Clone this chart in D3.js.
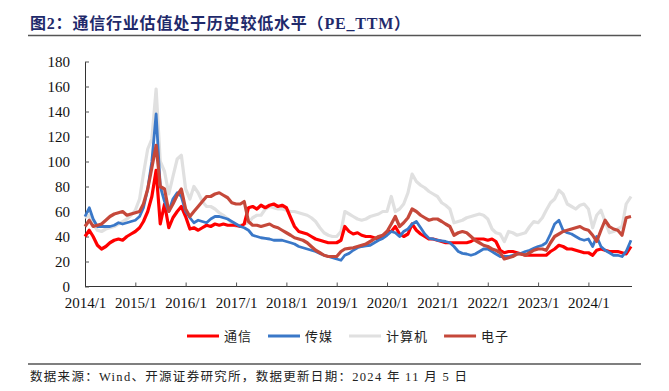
<!DOCTYPE html>
<html>
<head>
<meta charset="utf-8">
<script src="https://cdn.jsdelivr.net/npm/d3@7"></script>
<style>
  body { margin: 0; background: #fff; }
  svg { display: block; }
</style>
</head>
<body>
<svg id="chart" width="669" height="391"></svg>
<script>
// monthly PE_TTM, 2014/1 .. 2024/11
const seriesNames = ["通信", "传媒", "计算机", "电子"];
const seriesColors = ["#ff0000", "#3a78c8", "#e0e0e0", "#c5483a"];

const tongxin = [
  40, 45, 40, 33, 30, 32, 35, 37, 38, 37, 40, 42,
  44, 47, 52, 60, 72, 93, 50, 66, 47, 55, 60, 64,
  56, 46, 47, 45, 47, 49, 48, 50, 49, 50, 49, 49,
  49, 48, 50, 63, 64, 62, 65, 63, 65, 66, 64, 65,
  63, 55, 48, 44, 43, 42, 40, 38, 37, 36, 35, 35,
  35, 37, 48, 44, 42, 43, 41, 40, 40, 39, 38, 40,
  44, 44, 48, 42, 40, 42, 50, 45, 42, 40, 38, 38,
  37, 36, 35, 35, 35, 35, 35, 35, 36, 38, 38, 38,
  37, 38, 36, 29, 27, 28, 28, 27, 26, 25, 25, 25,
  25, 25, 25, 28, 30, 33, 32, 30, 30, 29, 28, 27,
  27, 25, 29, 30, 29, 28, 28, 28, 27, 26, 32
];
const chuanmei = [
  56, 63, 54, 48, 48, 48, 48, 49, 51, 50, 51, 52,
  53, 56, 63, 78, 100, 138, 80, 68, 60, 70, 75, 72,
  60, 55, 51, 53, 52, 51, 54, 56, 56, 55, 54, 52,
  50, 48, 47, 45, 41, 40, 39, 38.5, 38, 37, 37, 37,
  36, 35, 34, 32, 31, 30, 29, 28, 26.5, 25, 24, 23,
  22, 21, 25, 26.5, 29, 31, 32, 32.5, 33, 35, 37, 38.5,
  41, 44, 43, 40, 44, 46, 50, 52, 47, 42, 38.5, 38,
  37, 36.5, 36, 35, 32, 28, 26.5, 26, 25, 26, 28, 30,
  30, 28, 26, 24, 24, 24, 25, 26, 26.5, 28, 29, 30.5,
  32, 33, 35, 42, 50, 53, 45, 43, 42, 40, 38, 37,
  38, 32, 40, 32, 29, 27, 25, 25, 24, 28, 37
];
const jisuanji = [
  55, 57, 50, 45, 44, 46, 47, 48, 50, 52, 54, 57,
  61, 70, 90, 110, 118, 158, 100, 92, 74, 88, 102, 105,
  78, 70, 80, 75, 68, 64, 64, 62, 59, 57, 54, 51,
  48, 49, 50, 51, 55, 57, 57, 62, 64, 63, 62, 62,
  61, 60, 60, 59, 58, 57, 55, 52, 47, 43, 41, 40,
  40, 44, 60, 58, 56, 54, 53, 54, 56, 57, 58, 60,
  60, 72, 60, 62, 66, 75, 90, 84, 81, 79, 76, 74,
  72, 67, 65, 62, 51, 52, 53, 55, 56, 57, 58, 57,
  54, 46, 43, 42, 36, 44, 43, 41, 42, 43, 48, 52,
  51, 55, 61, 67, 70, 77, 74, 66, 64, 62, 65, 66,
  62, 47, 57, 61, 52, 43, 44, 46, 48, 66, 72
];
const dianzi = [
  48, 53, 48, 49, 50, 53, 56, 58, 59, 60, 57, 58,
  59, 60, 66, 78, 95, 113, 80, 78, 60, 66, 73, 78,
  62, 56, 60, 64, 68, 72, 72, 74, 75, 73, 71, 67,
  66, 66, 68, 52, 49, 49, 48, 49, 50, 48, 47, 45,
  43, 41, 39, 38, 37, 35, 32, 29, 27, 25, 24, 24,
  24, 28, 30, 30.5, 31, 32, 33, 34, 36, 38, 40, 41,
  44, 50, 56, 48, 51, 55, 62, 60, 57, 55, 53, 54,
  54, 52, 50, 48, 41, 43, 44, 43, 40, 37, 35, 33,
  32, 30, 29, 27, 22, 23, 24, 26, 26, 25, 27, 29,
  30, 30, 29, 35, 40, 42, 44, 45, 46, 47, 48, 46,
  45, 41, 36, 45, 53, 48, 46, 45, 41, 55, 56
];
const tickYears = [2014, 2015, 2016, 2017, 2018, 2019, 2020, 2021, 2022, 2023, 2024];
const tickLabels = ["2014/1", "2015/1", "2016/1", "2017/1", "2018/1", "2019/1",
  "2020/1", "2021/1", "2022/1", "2023/1", "2024/1"];
const yTicks = [0, 20, 40, 60, 80, 100, 120, 140, 160, 180];

const dates = d3.timeMonth.range(new Date(2014, 0, 1), new Date(2024, 11, 1));
dates[dates.length - 1] = new Date(2024, 10, 5); // last update 2024-11-05

const svg = d3.select("#chart");
const serif = "'Liberation Serif', 'Times New Roman', 'Noto Sans CJK SC', serif";
const cjk = "'Liberation Serif', 'Noto Sans CJK SC', sans-serif";

// title + rules
svg.append("text")
  .attr("x", 30).attr("y", 29)
  .attr("font-family", cjk)
  .attr("font-size", 16).attr("font-weight", "bold")
  .attr("letter-spacing", 0.8)
  .attr("fill", "#1f2a6b")
  .text("图2：通信行业估值处于历史较低水平（PE_TTM）");
svg.append("line").attr("x1", 28).attr("x2", 641).attr("y1", 35.5).attr("y2", 35.5)
  .attr("stroke", "#555").attr("stroke-width", 1.5);
svg.append("line").attr("x1", 28).attr("x2", 641).attr("y1", 364).attr("y2", 364)
  .attr("stroke", "#555").attr("stroke-width", 1.5);
svg.append("text")
  .attr("x", 30).attr("y", 381)
  .attr("font-family", cjk).attr("font-size", 12.5).attr("fill", "#222")
  .attr("letter-spacing", 1.3)
  .text("数据来源：Wind、开源证券研究所，数据更新日期：2024 年 11 月 5 日");

// scales
const x = d3.scaleTime()
  .domain([dates[0], dates[dates.length - 1]])
  .range([85, 631]);
const y = d3.scaleLinear().domain([0, 180]).range([286.5, 61.5]);

// axes
const xAxis = svg.append("g")
  .attr("transform", "translate(0,286.5)")
  .call(d3.axisBottom(x)
    .tickValues(tickYears.map(yr => new Date(yr, 0, 1)))
    .tickFormat((d, i) => tickLabels[i])
    .tickSizeInner(-4).tickSizeOuter(0).tickPadding(11));
xAxis.select(".domain").attr("stroke", "#333").attr("d", "M85,0H632");
xAxis.selectAll(".tick line").attr("stroke", "#555");
xAxis.selectAll("text").attr("font-family", serif).attr("font-size", 15).attr("fill", "#111");

const yAxis = svg.append("g")
  .attr("transform", "translate(85,0)")
  .call(d3.axisLeft(y).tickValues(yTicks)
    .tickSizeInner(-4).tickSizeOuter(0).tickPadding(15));
yAxis.select(".domain").attr("stroke", "#333");
yAxis.selectAll(".tick line").attr("stroke", "#555");
yAxis.selectAll("text").attr("font-family", serif).attr("font-size", 15).attr("fill", "#111");

// lines
const line = d3.line()
  .x((d, i) => x(dates[i]))
  .y(d => y(d));

const allSeries = [tongxin, chuanmei, jisuanji, dianzi];
const drawOrder = [2, 0, 1, 3];
drawOrder.forEach(k => {
  svg.append("path")
    .datum(allSeries[k])
    .attr("fill", "none")
    .attr("stroke", seriesColors[k])
    .attr("stroke-width", k === 1 ? 2.8 : 3.2)
    .attr("stroke-linejoin", "round")
    .attr("d", line);
});

// legend
const legend = svg.append("g").attr("transform", "translate(187,336)");
let lx = 0;
seriesNames.forEach((name, k) => {
  legend.append("line")
    .attr("x1", lx).attr("x2", lx + 32)
    .attr("y1", 0).attr("y2", 0)
    .attr("stroke", seriesColors[k]).attr("stroke-width", 3);
  const t = legend.append("text")
    .attr("x", lx + 37).attr("y", 5)
    .attr("font-family", cjk).attr("font-size", 13).attr("fill", "#222")
    .attr("letter-spacing", 1)
    .text(name);
  lx += 37 + t.node().getComputedTextLength() + 16;
});
</script>
</body>
</html>
